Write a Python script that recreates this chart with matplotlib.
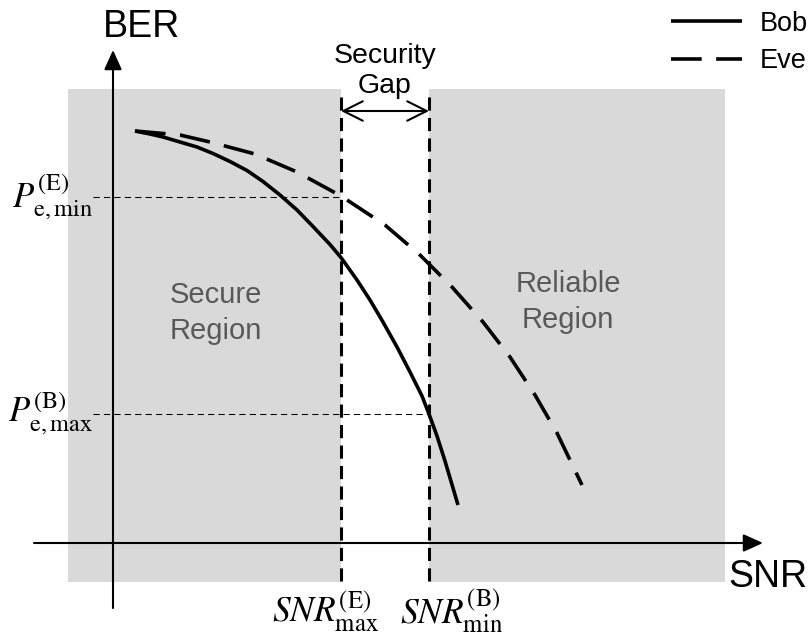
import numpy as np
import matplotlib.pyplot as plt
from matplotlib.patches import Rectangle

plt.rcParams['font.family'] = ['Liberation Sans', 'DejaVu Sans']
plt.rcParams['mathtext.fontset'] = 'stix'

# --- dados (curvas conceituais) ---
bob_snr = [0.22, 0.37, 0.50, 0.67, 0.84, 1.00, 1.17, 1.34, 1.50, 1.67, 1.84,
           2.00, 2.17, 2.28, 2.44, 2.57, 2.70, 2.84, 2.97, 3.09, 3.16, 3.24,
           3.32, 3.40, 3.45]
bob_ber = [4.12, 4.09, 4.06, 4.01, 3.96, 3.895, 3.815, 3.725, 3.615, 3.48,
           3.33, 3.165, 2.985, 2.855, 2.63, 2.43, 2.21, 1.96, 1.71, 1.47,
           1.29, 1.07, 0.82, 0.55, 0.38]

eve_snr = [0.22, 0.67, 0.97, 1.42, 1.84, 2.28, 2.72, 3.07, 3.39, 3.70, 3.97,
           4.22, 4.44, 4.69]
eve_ber = [4.12, 4.08, 4.01, 3.89, 3.71, 3.47, 3.18, 2.88, 2.56, 2.21, 1.86,
           1.48, 1.10, 0.58]

snr_e_max = 2.28   # SNR_max^(E)
snr_b_min = 3.16   # SNR_min^(B)
pe_e_min = 3.46    # P_e,min^(E)
pe_b_max = 1.29    # P_e,max^(B)

region_bottom, region_top = -0.39, 4.54
region_left, region_right = -0.45, 6.12

gray = '#d9d9d9'
text_gray = '#595959'

fig = plt.figure(figsize=(8.09, 6.39), dpi=100)
ax = fig.add_axes([0, 0, 1, 1])
ax.set_xlim(-1.13, 6.96)
ax.set_ylim(-0.96, 5.43)
ax.axis('off')

# regiões sombreadas
ax.add_patch(Rectangle((region_left, region_bottom), snr_e_max - region_left,
                       region_top - region_bottom, color=gray, lw=0, zorder=0))
ax.add_patch(Rectangle((snr_b_min, region_bottom), region_right - snr_b_min,
                       region_top - region_bottom, color=gray, lw=0, zorder=0))

# eixos com setas
ax.annotate('', xy=(0, 4.93), xytext=(0, -0.65),
            arrowprops=dict(arrowstyle='-|>,head_length=0.6,head_width=0.27',
                            mutation_scale=20, lw=1.5, color='black',
                            shrinkA=0, shrinkB=0), zorder=3)
ax.annotate('', xy=(6.50, 0), xytext=(-0.79, 0),
            arrowprops=dict(arrowstyle='-|>,head_length=0.6,head_width=0.27',
                            mutation_scale=20, lw=1.5, color='black',
                            shrinkA=0, shrinkB=0), zorder=3)

# linhas verticais tracejadas
for xv in (snr_e_max, snr_b_min):
    ax.plot([xv, xv], [region_bottom + 0.01, region_top - 0.03], color='black',
            lw=2.2, linestyle=(0, (4.3, 2.4)), zorder=2)

# linhas horizontais finas
ax.plot([-0.20, snr_e_max], [pe_e_min, pe_e_min], color='black', lw=0.75,
        linestyle=(0, (6, 4)), zorder=2)
ax.plot([-0.20, snr_b_min], [pe_b_max, pe_b_max], color='black', lw=0.75,
        linestyle=(0, (6, 4)), zorder=2)

# curvas
ax.plot(bob_snr, bob_ber, color='black', lw=2.6, label='Bob', zorder=4,
        solid_capstyle='butt', solid_joinstyle='round')
ax.plot(eve_snr, eve_ber, color='black', lw=2.6, linestyle=(0, (8.5, 4.0)),
        label='Eve', zorder=4, dash_capstyle='butt', dash_joinstyle='round')

# seta do security gap
ax.annotate('', xy=(snr_b_min, 4.32), xytext=(snr_e_max, 4.32),
            arrowprops=dict(arrowstyle='<->,head_length=0.7,head_width=0.35',
                            mutation_scale=20, lw=1.5, color='black',
                            shrinkA=0, shrinkB=0), zorder=3)

# textos
ax.text(0.29, 5.16, 'BER', fontsize=27, ha='center', va='center')
ax.text(6.55, -0.34, 'SNR', fontsize=27, ha='center', va='center')
ax.text((snr_e_max + snr_b_min) / 2, 4.72, 'Security\nGap', fontsize=20.5,
        ha='center', va='center', linespacing=1.22)
ax.text(1.03, 2.30, 'Secure\nRegion', fontsize=21, ha='center', va='center',
        color=text_gray, linespacing=1.38)
ax.text(4.55, 2.41, 'Reliable\nRegion', fontsize=21, ha='center', va='center',
        color=text_gray, linespacing=1.38)

ax.text(-0.20, pe_e_min, r'$P_{\mathrm{e,min}}^{(\mathrm{E})}$', fontsize=25,
        ha='right', va='center')
ax.text(-0.20, pe_b_max, r'$P_{\mathrm{e,max}}^{(\mathrm{B})}$', fontsize=25,
        ha='right', va='center')
ax.text(snr_e_max - 0.16, -0.69, r'$SNR_{\mathrm{max}}^{(\mathrm{E})}$',
        fontsize=25.5, ha='center', va='center')
ax.text(snr_b_min + 0.23, -0.69, r'$SNR_{\mathrm{min}}^{(\mathrm{B})}$',
        fontsize=25.5, ha='center', va='center')

ax.legend(loc='upper right', bbox_to_anchor=(0.998, 0.983), frameon=False,
          fontsize=19.5, handlelength=2.6, handletextpad=0.65,
          labelspacing=0.42, borderaxespad=0.0, borderpad=0.0)

fig.savefig('out.png', dpi=100)
